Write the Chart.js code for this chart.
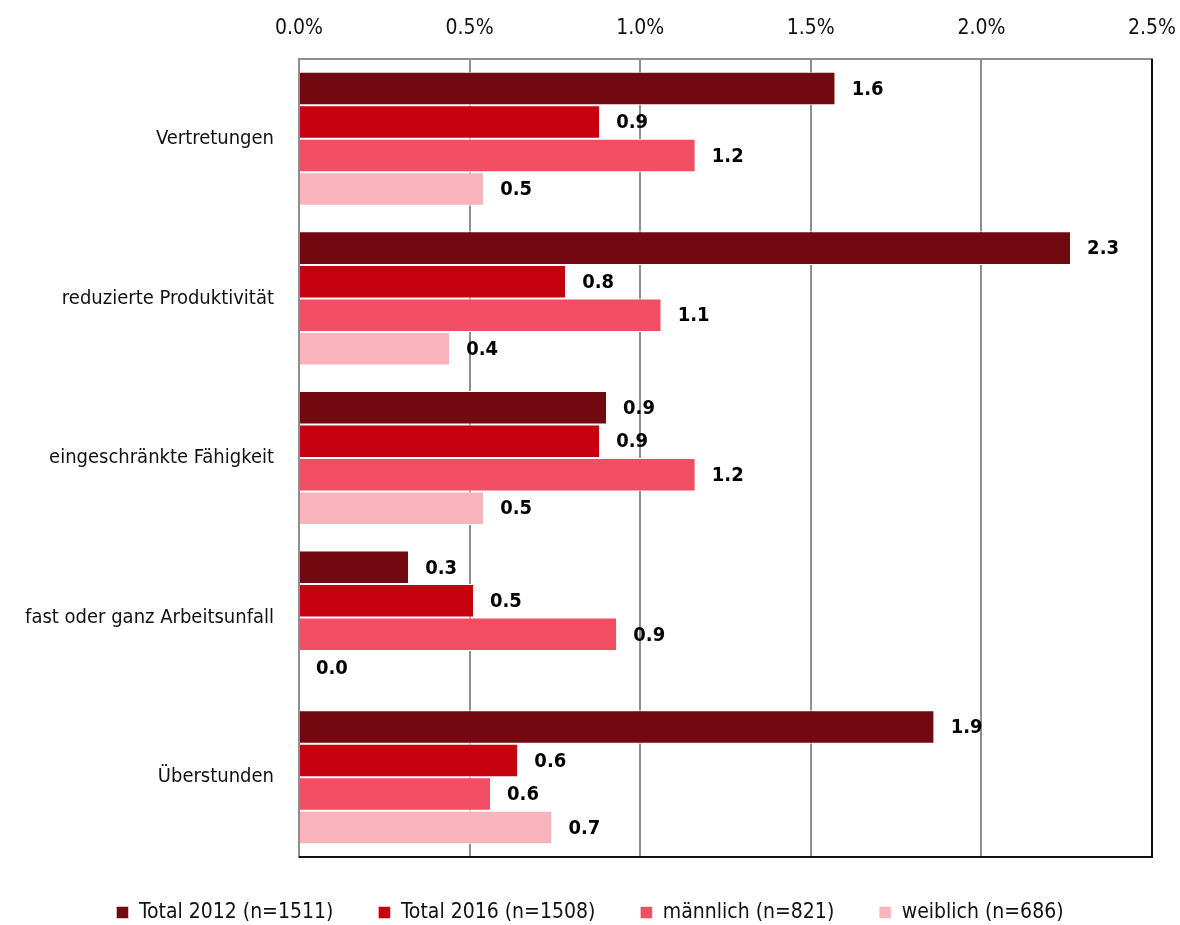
<!DOCTYPE html>
<html lang="de">
<head>
<meta charset="utf-8">
<title>Gründe</title>
<script src="https://cdn.jsdelivr.net/npm/chart.js@4/dist/chart.umd.min.js"></script>
<style>
  html, body { margin: 0; padding: 0; background: #fff; }
  #wrap { width: 1180px; height: 925px; }
</style>
</head>
<body>
<div id="wrap"><canvas id="grafik"></canvas></div>
<script>
// ====== DATEN ======
const kategorien = ["Vertretungen", "reduzierte Produktivität", "eingeschränkte Fähigkeit", "fast oder ganz Arbeitsunfall", "Überstunden"];
const total2012 = [1.57, 2.26, 0.90, 0.32, 1.86];
const total2016 = [0.88, 0.78, 0.88, 0.51, 0.64];
const maennlich = [1.16, 1.06, 1.16, 0.93, 0.56];
const weiblich = [0.54, 0.44, 0.54, 0.0, 0.74];
const xTicks = [0, 0.5, 1.0, 1.5, 2.0, 2.5];

const SCHRIFT = "'Liberation Sans Narrow', 'Arial Narrow', 'DejaVu Sans Condensed', sans-serif";

// Werte neben die Balken schreiben
const wertLabels = {
  id: "wertLabels",
  afterDatasetsDraw(chart) {
    const ctx = chart.ctx;
    ctx.save();
    ctx.font = "bold 20px " + SCHRIFT;
    ctx.fillStyle = "#000";
    ctx.textAlign = "left";
    ctx.textBaseline = "middle";
    chart.data.datasets.forEach((ds, i) => {
      chart.getDatasetMeta(i).data.forEach((bar, j) => {
        ctx.fillText(ds.data[j].toFixed(1), bar.x + 17, bar.y + 1);
      });
    });
    ctx.restore();
  }
};

// Rahmen rechts und unten
const rahmen = {
  id: "rahmen",
  afterDraw(chart) {
    const { ctx, chartArea: a } = chart;
    ctx.save();
    ctx.strokeStyle = "#111";
    ctx.lineWidth = 2;
    ctx.beginPath();
    ctx.moveTo(a.left, a.bottom);
    ctx.lineTo(a.right, a.bottom);
    ctx.lineTo(a.right, a.top);
    ctx.stroke();
    ctx.restore();
  }
};

const ctx = document.getElementById("grafik").getContext("2d");
new Chart(ctx, {
  type: "bar",
  data: {
    labels: kategorien,
    datasets: [
      { label: "Total 2012 (n=1511)", data: total2012, backgroundColor: "#720810" },
      { label: "Total 2016 (n=1508)", data: total2016, backgroundColor: "#C5000F" },
      { label: "männlich (n=821)", data: maennlich, backgroundColor: "#F24E63" },
      { label: "weiblich (n=686)", data: weiblich, backgroundColor: "#F9B3BC" },
    ].map((d) => Object.assign(d, {
      borderColor: "#fff",
      borderWidth: { top: 1, bottom: 1, left: 0, right: 0 },
      borderSkipped: false,
      categoryPercentage: 0.84,
      barPercentage: 1.0,
    })),
  },
  options: {
    indexAxis: "y",
    responsive: true,
    maintainAspectRatio: false,
    animation: false,
    layout: { padding: { left: 0, right: 0, top: 0, bottom: -8 } },
    scales: {
      x: {
        position: "top",
        min: 0,
        max: 2.5,
        afterBuildTicks: (s) => { s.ticks = xTicks.map((v) => ({ value: v })); },
        afterFit: (s) => { s.height = 59; s.paddingLeft = 0; s.paddingRight = 28; },
        grid: { color: "#8f8f8f", lineWidth: 2, drawTicks: false },
        border: { color: "#8f8f8f", width: 2 },
        ticks: {
          padding: 18,
          color: "#111",
          font: { family: SCHRIFT, size: 21 },
          callback: (v) => Number(v).toFixed(1) + "%",
        },
      },
      y: {
        afterFit: (s) => { s.width = 299; },
        grid: { display: false },
        border: { color: "#8f8f8f", width: 2 },
        ticks: {
          padding: 17,
          color: "#111",
          font: { family: SCHRIFT, size: 20 },
        },
      },
    },
    plugins: {
      legend: {
        position: "bottom",
        labels: {
          boxWidth: 12,
          boxHeight: 12,
          padding: 45,
          color: "#111",
          font: { family: SCHRIFT, size: 21 },
        },
      },
      tooltip: { enabled: false },
    },
  },
  plugins: [wertLabels, rahmen],
});
</script>
</body>
</html>
